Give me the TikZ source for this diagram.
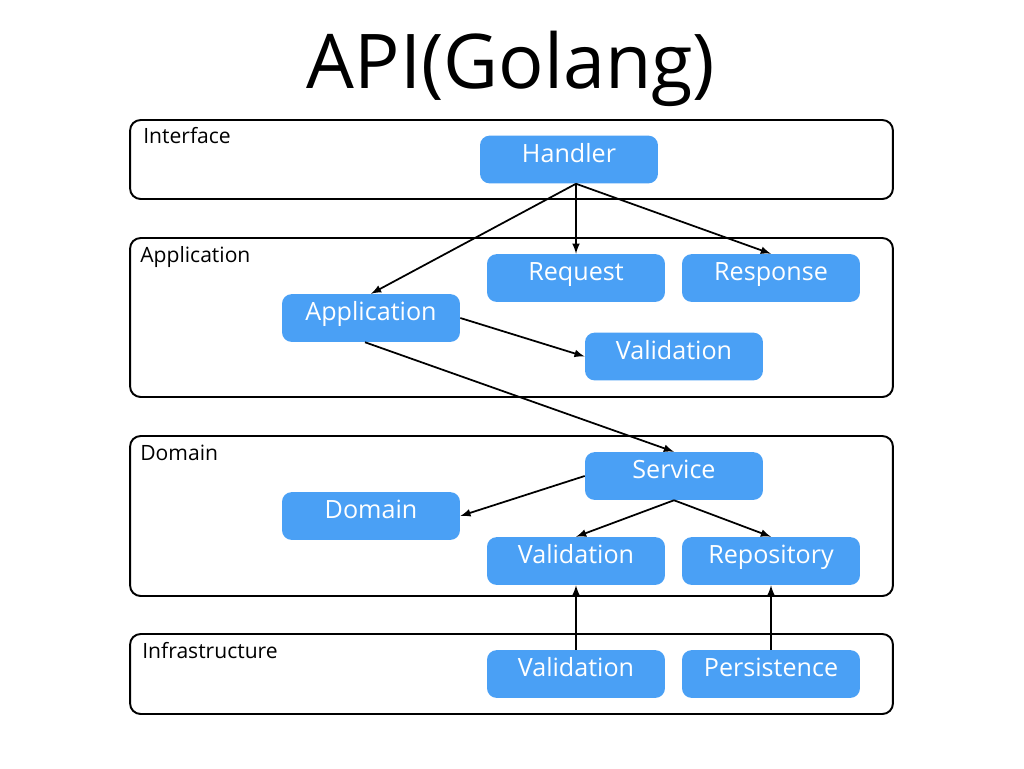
\documentclass[tikz,border=0pt]{standalone}
\usepackage{fontspec}
\setmainfont{Open Sans}
\definecolor{boxblue}{RGB}{74,160,245}
\tikzset{
  layer/.style={draw,line width=1.1pt,rounded corners=6pt,minimum width=15.26cm,inner sep=0pt},
  comp/.style={fill=boxblue,text=white,rounded corners=5.5pt,minimum width=3.56cm,inner xsep=0pt,inner ysep=0pt,
    text height=15.1pt,text depth=12.1pt,font=\fontsize{14.3}{16}\selectfont},
  layername/.style={anchor=base west,inner sep=0pt,font=\fontsize{12}{14}\selectfont},
  dep/.style={->,>=latex,line width=1pt}
}
\begin{document}
\begin{tikzpicture}[x=0.02cm,y=0.02cm]
                \useasboundingbox (0,0) rectangle (1024,-768);
                \node[anchor=base,font=\fontsize{43}{50}\selectfont] (title) at (511,-88) {API(Golang)};
                \node[layer,minimum height=1.58cm] (iface) at (511.5,-159.5) {};
                \node[layer,minimum height=3.18cm] (appl) at (511.5,-317.5) {};
                \node[layer,minimum height=3.2cm] (dom) at (511.5,-516) {};
                \node[layer,minimum height=1.6cm] (infra) at (511.5,-674) {};
                \node[layername] (ifacename) at (143,-143) {Interface};
                \node[layername] (applname) at (140,-262) {Application};
                \node[layername] (domname) at (140,-460) {Domain};
                \node[layername] (infraname) at (142,-658) {Infrastructure};
                \node[comp] (handler) at (569,-159.5) {Handler};
                \node[comp] (request) at (576,-278) {Request};
                \node[comp] (response) at (771,-278) {Response};
                \node[comp] (app) at (371,-318) {Application};
                \node[comp] (valapp) at (674,-356.5) {Validation};
                \node[comp] (service) at (674,-476) {Service};
                \node[comp] (domain) at (371,-516) {Domain};
                \node[comp] (valdom) at (576,-561) {Validation};
                \node[comp] (repo) at (771,-561) {Repository};
                \node[comp] (valinfra) at (576,-674) {Validation};
                \node[comp] (persist) at (771,-674) {Persistence};
                \coordinate (hsrc) at ([xshift=0.14cm]handler.south);
                \draw[dep] (hsrc) -- (app.north);
                \draw[dep] (hsrc) -- (request.north);
                \draw[dep] (hsrc) -- (response.north);
                \draw[dep] (app.east) -- (valapp.west);
                \draw[dep] ([xshift=-0.12cm]app.south) -- (service.north);
                \draw[dep] (service.west) -- (domain.east);
                \draw[dep] (service.south) -- (valdom.north);
                \draw[dep] (service.south) -- (repo.north);
                \draw[dep] (valinfra.north) -- (valdom.south);
                \draw[dep] (persist.north) -- (repo.south);
            \end{tikzpicture}
\end{document}
